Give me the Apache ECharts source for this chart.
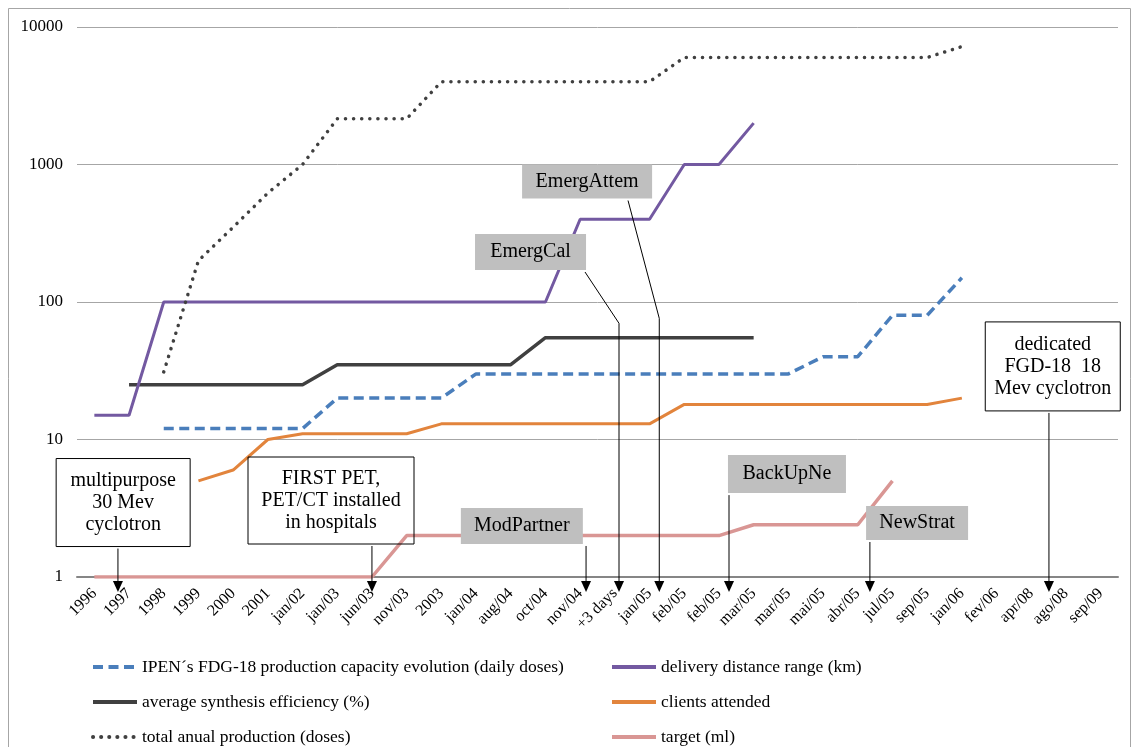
<!DOCTYPE html>
<html>
<head>
<meta charset="utf-8">
<title>IPEN FDG-18 evolution</title>
<script src="https://cdn.jsdelivr.net/npm/echarts@6/dist/echarts.min.js"></script>
<style>
  html, body { margin: 0; padding: 0; background: #fff; }
  #chart { width: 1132px; height: 747px; }
</style>
</head>
<body>
<div id="chart"></div>
<script>
// x axis categories (dates are not evenly spaced, they're just steps)
const tickLabels = ['1996', '1997', '1998', '1999', '2000', '2001', 'jan/02', 'jan/03', 'jun/03', 'nov/03',
  '2003', 'jan/04', 'aug/04', 'oct/04', 'nov/04', '+3 days', 'jan/05', 'feb/05', 'feb/05', 'mar/05',
  'mar/05', 'mai/05', 'abr/05', 'jul/05', 'sep/05', 'jan/06', 'fev/06', 'apr/08', 'ago/08', 'sep/09']

// series values, one per category (null = no point)
const capacity = [null, null, 12, 12, 12, 12, 12, 20, 20, 20, 20, 30, 30, 30, 30, 30, 30, 30, 30, 30,
  30, 40, 40, 80, 80, 150, null, null, null, null]
const distance = [15, 15, 100, 100, 100, 100, 100, 100, 100, 100, 100, 100, 100, 100, 400, 400, 400, 1000, 1000, 2000,
  null, null, null, null, null, null, null, null, null, null]
const efficiency = [null, 25, 25, 25, 25, 25, 25, 35, 35, 35, 35, 35, 35, 55, 55, 55, 55, 55, 55, 55,
  null, null, null, null, null, null, null, null, null, null]
const clients = [null, null, null, 5, 6, 10, 11, 11, 11, 11, 13, 13, 13, 13, 13, 13, 13, 18, 18, 18,
  18, 18, 18, 18, 18, 20, null, null, null, null]
const production = [null, null, 31, 200, 350, 620, 1000, 2150, 2150, 2150, 4000, 4000, 4000, 4000, 4000, 4000, 4000, 6000, 6000, 6000,
  6000, 6000, 6000, 6000, 6000, 7200, null, null, null, null]
const target = [1, 1, 1, 1, 1, 1, 1, 1, 1, 2, 2, 2, 2, 2, 2, 2, 2, 2, 2, 2.4,
  2.4, 2.4, 2.4, 5, null, null, null, null, null, null]

const names = {
  capacity: 'IPEN\u00b4s FDG-18 production capacity evolution (daily doses)',
  distance: 'delivery distance range (km)',
  efficiency: 'average synthesis efficiency (%)',
  clients: 'clients attended',
  production: 'total anual production (doses)',
  target: 'target (ml)'
}

// callout boxes, placed in axis units (x = category index, y = value on the log axis)
const notes = [
  { text: 'multipurpose\n30 Mev\ncyclotron', x: 0.83, y: 3.48, w: 134, h: 88, boxed: true, arrowX: 0.68 },
  { text: 'FIRST PET,\nPET/CT installed\nin hospitals', x: 6.82, y: 3.6, w: 166, h: 87, boxed: true, arrowX: 8 },
  { text: 'ModPartner', x: 12.32, y: 2.35, w: 122, h: 36, arrowX: 14.17 },
  { text: 'EmergCal', x: 12.57, y: 231, w: 111, h: 36, arrowX: 14.14, knee: [15.12, 70] },
  { text: 'EmergAttem', x: 14.2, y: 752, w: 130, h: 34, arrowX: 15.38, knee: [16.28, 76] },
  { text: 'BackUpNe', x: 19.96, y: 5.6, w: 118, h: 38, arrowX: 18.29 },
  { text: 'NewStrat', x: 23.71, y: 2.47, w: 102, h: 34, arrowX: 22.35 },
  { text: 'dedicated\nFGD-18  18\nMev cyclotron', x: 27.62, y: 34, w: 135, h: 89, boxed: true, arrowX: 27.51 }
]

const serif = '"Liberation Serif", "Times New Roman", serif'

function renderNote(params, api) {
  const note = notes[params.dataIndex]
  const c = api.coord([note.x, note.y])
  const left = c[0] - note.w / 2
  const top = c[1] - note.h / 2
  const bottom = top + note.h
  const tipY = api.coord([0, 1])[1] + 15

  const children = [{
    type: 'rect',
    shape: { x: left, y: top, width: note.w, height: note.h },
    style: note.boxed
      ? { fill: 'transparent', stroke: '#000', lineWidth: 1 }
      : { fill: '#bfbfbf' },
    textContent: {
      style: { text: note.text, font: '20px ' + serif, fill: '#000', align: 'center', lineHeight: 22 }
    },
    textConfig: { position: 'inside' }
  }]

  const startX = api.coord([note.arrowX, 1])[0]
  const pts = [[startX, bottom + 2]]
  if (note.knee) {
    const k = api.coord(note.knee)
    pts.push(k)
    pts.push([k[0], tipY - 10])
  } else {
    pts.push([startX, tipY - 10])
  }
  const endX = pts[pts.length - 1][0]
  children.push({
    type: 'polyline',
    shape: { points: pts },
    style: { stroke: '#000', lineWidth: 1, fill: 'transparent' }
  })
  children.push({
    type: 'polygon',
    shape: { points: [[endX - 5, tipY - 11], [endX + 5, tipY - 11], [endX, tipY]] },
    style: { fill: '#000' }
  })
  return { type: 'group', children }
}

function lineSeries(name, data, color, width, type, cap) {
  return {
    name,
    type: 'line',
    data,
    symbol: 'none',
    connectNulls: false,
    lineStyle: { color, width, type, cap: cap || 'butt' },
    itemStyle: { color },
    z: 3
  }
}

const legendBase = {
  top: 657,
  orient: 'vertical',
  padding: 0,
  itemGap: 15,
  itemWidth: 44,
  itemHeight: 14,
  // hide the marker dot, keep only the line sample
  itemStyle: { opacity: 0 },
  lineStyle: { width: 4 },
  textStyle: { fontFamily: serif, fontSize: 17.5, color: '#000', lineHeight: 20 }
}

const chart = echarts.init(document.getElementById('chart'))
chart.setOption({
  animation: false,
  backgroundColor: '#fff',
  graphic: [{
    type: 'rect',
    shape: { x: 8.5, y: 8.5, width: 1122, height: 760 },
    style: { fill: 'transparent', stroke: '#a6a6a6', lineWidth: 1 },
    silent: true
  }],
  grid: { left: 77, right: 14, top: 27, bottom: 170 },
  legend: [
    Object.assign({}, legendBase, { left: 91, data: [names.capacity, names.efficiency, names.production] }),
    Object.assign({}, legendBase, { left: 610, data: [names.distance, names.clients, names.target] })
  ],
  xAxis: [{
    type: 'category',
    data: tickLabels,
    axisLine: { lineStyle: { color: '#868686', width: 2 } },
    axisTick: { show: false },
    axisLabel: { interval: 0, rotate: 45, margin: 14, color: '#000', fontFamily: serif, fontSize: 16 }
  }, {
    // helper axis for placing callouts between categories
    type: 'value', min: -0.5, max: 29.5, show: false
  }],
  yAxis: {
    type: 'log',
    logBase: 10,
    min: 1,
    max: 10000,
    axisLine: { show: false },
    axisTick: { show: false },
    splitLine: { lineStyle: { color: '#a6a6a6', width: 1 } },
    axisLabel: {
      margin: 14, color: '#000', fontFamily: serif, fontSize: 17,
      formatter: v => String(Math.round(v))
    }
  },
  series: [
    lineSeries(names.target, target, '#d99694', 3.5),
    lineSeries(names.clients, clients, '#e2843c', 3),
    lineSeries(names.capacity, capacity, '#4a7ebb', 3.5, [10, 5.5]),
    lineSeries(names.efficiency, efficiency, '#404040', 3.5),
    lineSeries(names.distance, distance, '#7359a1', 3),
    lineSeries(names.production, production, '#404040', 3.5, [0.1, 8], 'round'),
    {
      type: 'custom',
      xAxisIndex: 1,
      yAxisIndex: 0,
      data: notes.map(n => [n.x, n.y]),
      renderItem: renderNote,
      clip: false,
      silent: true,
      z: 10
    }
  ]
})
</script>
</body>
</html>
